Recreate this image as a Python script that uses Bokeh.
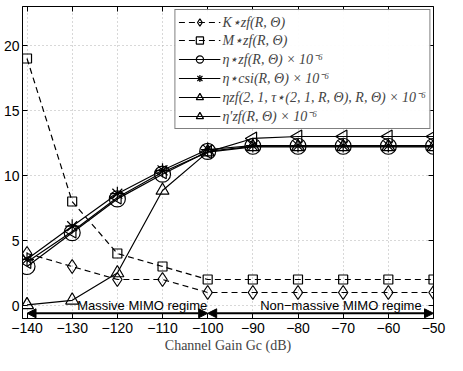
import numpy as np
from bokeh.plotting import figure
from bokeh.models import (Range1d, LinearAxis, Legend, LegendItem, Arrow, NormalHead,
                          Label, FixedTicker, ColumnDataSource)
from bokeh.embed import file_html
from bokeh.resources import INLINE

gain = [-140, -130, -120, -110, -100, -90, -80, -70, -60, -50]
k_star = [4, 3, 2, 2, 1, 1, 1, 1, 1, 1]
m_star = [19, 8, 4, 3, 2, 2, 2, 2, 2, 2]
eta_zf = [3.0, 5.6, 8.2, 10.1, 11.85, 12.25, 12.25, 12.25, 12.25, 12.25]
eta_csi = [3.55, 6.1, 8.6, 10.4, 12.0, 12.3, 12.3, 12.3, 12.3, 12.3]
eta_tau = [0.05, 0.4, 2.5, 8.85, 11.8, 12.2, 12.2, 12.2, 12.2, 12.2]
eta_prime = [3.35, 5.7, 8.3, 10.25, 11.8, 12.85, 13.0, 13.0, 13.0, 13.0]

labels = ["K⋆zf(R, Θ)", "M⋆zf(R, Θ)", "η⋆zf(R, Θ) × 10⁻⁶", "η⋆csi(R, Θ) × 10⁻⁶",
          "ηzf(2, 1, τ⋆(2, 1, R, Θ), R, Θ) × 10⁻⁶", "η′zf(R, Θ) × 10⁻⁶"]

x_ticks = [-140, -130, -120, -110, -100, -90, -80, -70, -60, -50]
x_tick_labels = ["−140", "−130", "−120", "−110", "−100", "−90", "−80", "−70", "−60", "−50"]
y_ticks = [0, 5, 10, 15, 20]

regime_bounds = [-140, -100, -50]
regime_y = -0.6
regime_names = ["Massive MIMO regime", "Non−massive MIMO regime"]
regime_text_x = [-114.5, -70.5]

p = figure(width=447, height=355, output_backend="svg", toolbar_location=None,
           x_range=Range1d(-141, -50), y_range=Range1d(-1, 23),
           min_border_top=6, min_border_right=14, min_border_left=4, min_border_bottom=2)
p.outline_line_color = "black"
p.outline_line_width = 1

src = ColumnDataSource(dict(x=gain, k=k_star, m=m_star, ezf=eta_zf, ecsi=eta_csi,
                            etau=eta_tau, ep=eta_prime))

def series(col, marker, dash, size, angle=0.0):
    ln = p.line("x", col, source=src, color="black", line_width=1.2, line_dash=dash)
    sc = p.scatter("x", col, source=src, marker=marker, size=size, line_color="black",
                   fill_color=None, line_width=1.2, angle=angle)
    return [ln, sc]

r_k = series("k", "diamond", "6 4", 14)
r_m = series("m", "square", "6 4", 9)
r_zf = series("ezf", "circle", "solid", 16)
r_csi = series("ecsi", "asterisk", "solid", 14)
r_tau = series("etau", "triangle", "solid", 13)
r_p = series("ep", "triangle", "solid", 13, angle=np.pi / 2)

legend = Legend(items=[LegendItem(label=l, renderers=r) for l, r in
                       zip(labels, [r_k, r_m, r_zf, r_csi, r_tau, r_p])],
                location="top_right")
legend.label_text_font = "Liberation Serif"
legend.label_text_font_style = "italic"
legend.label_text_font_size = "14px"
legend.glyph_width = 42
legend.glyph_height = 18
legend.label_height = 18
legend.spacing = 0
legend.padding = 3
legend.margin = 3
legend.border_line_color = "black"
legend.border_line_width = 1
legend.label_standoff = 2
p.add_layout(legend)

for i, name in enumerate(regime_names):
    p.add_layout(Arrow(x_start=regime_bounds[i], x_end=regime_bounds[i + 1],
                       y_start=regime_y, y_end=regime_y, line_width=2, line_color="black",
                       start=NormalHead(size=9, fill_color="black", line_color="black"),
                       end=NormalHead(size=9, fill_color="black", line_color="black")))
    p.add_layout(Label(x=regime_text_x[i], y=regime_y + 0.05, text=name, text_align="center",
                       text_baseline="bottom", text_font="Liberation Sans",
                       text_font_size="13px", text_color="black"))

for ax in (p.xaxis, p.yaxis):
    ax.major_tick_in = 5
    ax.major_tick_out = 0
    ax.minor_tick_line_color = None
    ax.major_label_text_font = "Liberation Sans"
    ax.major_label_text_font_size = "14px"
    ax.major_label_text_color = "black"
    ax.axis_line_color = "black"
    ax.major_tick_line_color = "black"

p.xaxis.ticker = FixedTicker(ticks=x_ticks)
p.xaxis.major_label_overrides = {t: s for t, s in zip(x_ticks, x_tick_labels)}
p.yaxis.ticker = FixedTicker(ticks=y_ticks)
p.xaxis.axis_label = "Channel Gain Gc (dB)"
p.xaxis.axis_label_text_font = "Liberation Serif"
p.xaxis.axis_label_text_font_style = "normal"
p.xaxis.axis_label_text_font_size = "14px"
p.xaxis.axis_label_standoff = 2
p.xaxis.major_label_standoff = 4
p.yaxis.major_label_standoff = 3

top = LinearAxis(ticker=FixedTicker(ticks=x_ticks), major_tick_in=5, major_tick_out=0,
                 major_label_overrides={t: "" for t in x_ticks}, major_label_standoff=0,
                 minor_tick_line_color=None, axis_line_color=None)
right = LinearAxis(ticker=FixedTicker(ticks=y_ticks), major_tick_in=5, major_tick_out=0,
                   major_label_overrides={t: "" for t in y_ticks}, major_label_standoff=0,
                   minor_tick_line_color=None, axis_line_color=None)
p.add_layout(top, "above")
p.add_layout(right, "right")

p.grid.grid_line_color = "#b0b0b0"
p.grid.grid_line_dash = "1 3"
p.grid.grid_line_width = 1
p.xgrid.ticker = FixedTicker(ticks=x_ticks)
p.ygrid.ticker = FixedTicker(ticks=y_ticks)

open("out.html", "w").write(file_html(p, INLINE))
